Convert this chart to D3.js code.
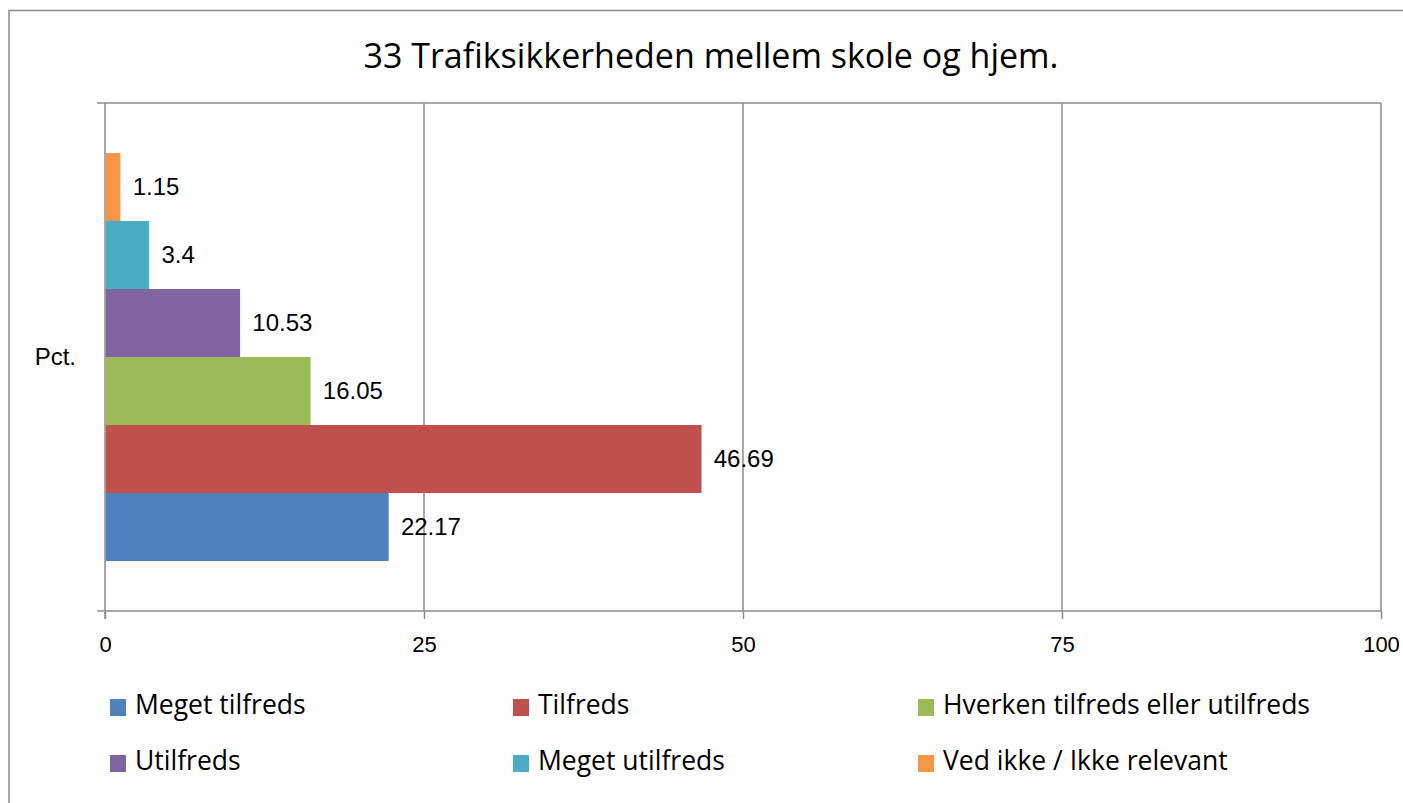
<!DOCTYPE html>
<html><head><meta charset="utf-8">
<script src="https://cdn.jsdelivr.net/npm/d3@7"></script>
<style>body{margin:0;background:#fff;}svg{display:block;}</style>
</head><body>
<svg id="c" width="1403" height="803"></svg>
<script>
const title = "33 Trafiksikkerheden mellem skole og hjem.";
const categories = ["Pct."];
const seriesNames = ["Meget tilfreds","Tilfreds","Hverken tilfreds eller utilfreds","Utilfreds","Meget utilfreds","Ved ikke / Ikke relevant"];
const seriesValues = [22.17, 46.69, 16.05, 10.53, 3.4, 1.15];
const seriesColors = ["#4F81BD","#C0504D","#9BBB59","#8064A2","#4BACC6","#F79646"];
const xTicks = [0,25,50,75,100];

const svg = d3.select("#c");
const W=1403,H=803;
const plot={l:105,r:1381,t:103,b:611};
const grid="#8c8c8c";

// outer frame
svg.append("rect").attr("x",9).attr("y",10.5).attr("width",W+20).attr("height",H+20)
  .attr("fill","none").attr("stroke","#8c8c8c").attr("stroke-width",1.5);

svg.append("text").attr("x",711).attr("y",68).attr("text-anchor","middle")
  .attr("font-family","Open Sans").attr("font-size",34).attr("fill","#000").text(title);

const x=d3.scaleLinear().domain([0,100]).range([plot.l,plot.r]);
const yCat=d3.scaleBand().domain(categories).range([plot.t,plot.b]);
const ySer=d3.scaleBand().domain(d3.range(seriesNames.length).reverse())
  .range([0,yCat.bandwidth()]).paddingInner(0).paddingOuter(0.735);

// gridlines
svg.append("g").selectAll("line").data(xTicks.slice(1)).join("line")
  .attr("x1",d=>x(d)).attr("x2",d=>x(d)).attr("y1",plot.t).attr("y2",plot.b)
  .attr("stroke",grid).attr("stroke-width",1.5);
// top border line with tick
svg.append("line").attr("x1",plot.l-8).attr("x2",plot.r).attr("y1",plot.t).attr("y2",plot.t)
  .attr("stroke",grid).attr("stroke-width",1.5);

// x axis
const xa=svg.append("g").attr("transform",`translate(0,${plot.b})`)
  .call(d3.axisBottom(x).tickValues(xTicks).tickSize(8).tickSizeOuter(0).tickPadding(17));
xa.select(".domain").attr("stroke",grid).attr("stroke-width",1.5).attr("d",`M${plot.l-8},0H${plot.r}`);
xa.selectAll(".tick line").attr("stroke",grid).attr("stroke-width",1.5);
xa.selectAll("text").attr("font-family","Liberation Sans").attr("font-size",22).attr("fill","#000");

// y axis
svg.append("line").attr("x1",plot.l).attr("x2",plot.l).attr("y1",plot.t).attr("y2",plot.b+8)
  .attr("stroke",grid).attr("stroke-width",1.5);
svg.append("g").selectAll("text").data(categories).join("text")
  .attr("x",plot.l-29).attr("y",d=>yCat(d)+yCat.bandwidth()/2).attr("dy","0.35em")
  .attr("text-anchor","end").attr("font-family","Liberation Sans").attr("font-size",24).text(d=>d);

// bars
const bars=svg.append("g");
categories.forEach(cat=>{
  seriesValues.forEach((v,i)=>{
    const y0=yCat(cat)+ySer(i);
    bars.append("rect").attr("x",x(0)+0.75).attr("y",y0).attr("width",x(v)-x(0)).attr("height",ySer.bandwidth())
      .attr("fill",seriesColors[i]);
    bars.append("text").attr("x",x(v)+13).attr("y",y0+ySer.bandwidth()/2).attr("dy","0.35em")
      .attr("font-family","Liberation Sans").attr("font-size",24).attr("fill","#000").text(v);
  });
});

// legend
const legCols=[110,513,918], legRows=[705,761];
const lg=svg.append("g");
seriesNames.forEach((n,i)=>{
  const cx=legCols[i%3], cy=legRows[Math.floor(i/3)];
  lg.append("rect").attr("x",cx).attr("y",cy-6).attr("width",16).attr("height",17).attr("fill",seriesColors[i]);
  lg.append("text").attr("x",cx+25).attr("y",cy).attr("dy","0.35em")
    .attr("font-family","Open Sans").attr("font-size",26.5).attr("fill","#000").text(n);
});
</script>
</body></html>
